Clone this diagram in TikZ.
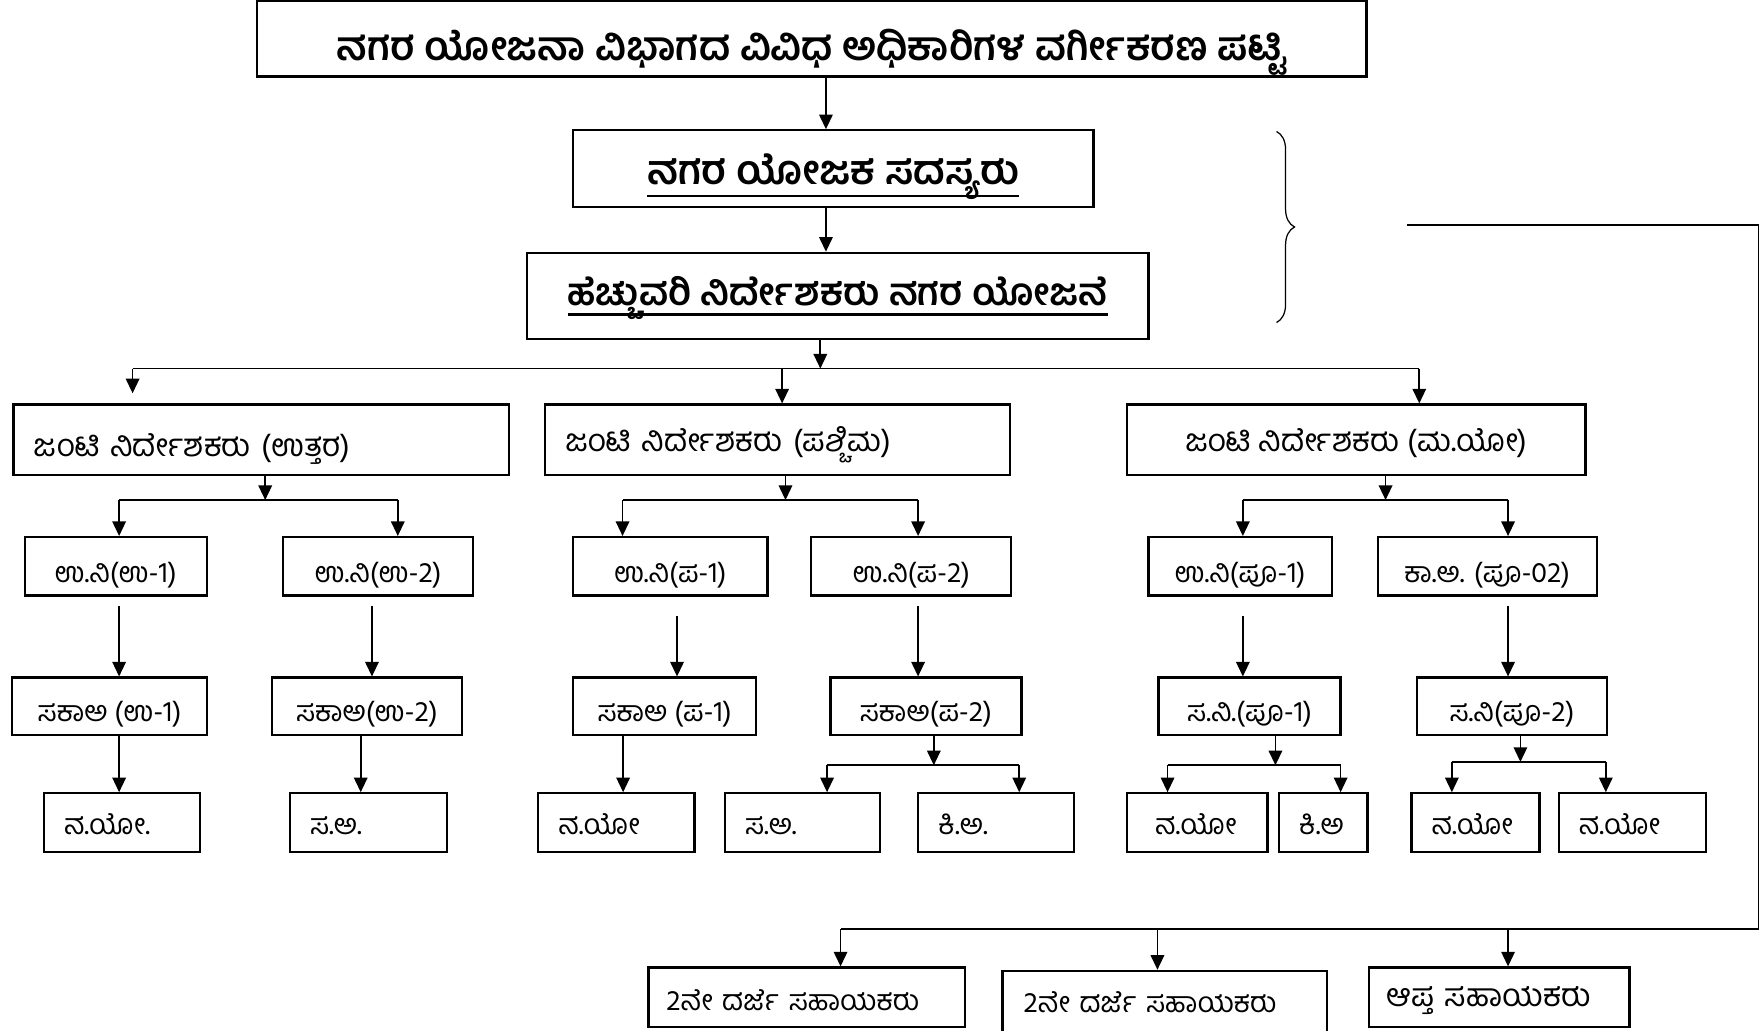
\documentclass[tikz,border=0pt]{standalone}
\usepackage{fontspec}
\newfontfamily\kn[Script=Kannada]{Hind Mysuru}
\usetikzlibrary{arrows.meta,decorations.pathreplacing}
\newcommand\ulk[2]{\setbox0\hbox{#2}\makebox[0pt][l]{\rule[-#1]{\wd0}{2.4pt}}\box0}
\begin{document}
\begin{tikzpicture}[x=1pt,y=1pt,
  bx/.style={draw, line width=2pt, inner sep=0pt, text depth=0pt},
  lbx/.style={bx, align=left},
  f0/.style={font=\kn\bfseries\fontsize{#1}{#1}\selectfont},
  f1/.style={font=\kn\fontsize{28}{32}\selectfont},
  f2/.style={font=\kn\fontsize{25.5}{29}\selectfont},
  f3/.style={font=\kn\fontsize{#1}{#1}\selectfont},
  ln/.style={line width=1.5pt},
  arr/.style={ln, -{Triangle[length=13pt,width=12pt]}},
  brc/.style={line width=1.1pt, decorate, decoration={brace, amplitude=16pt}}
]
\useasboundingbox (0,0) rectangle (1568,-917);
\clip (0,0) rectangle (1568,-917);
% top
\node[bx,f0=35.5,minimum width=987pt,minimum height=67pt,text height=38pt] (T) at (722.5,-34.5) {ನಗರ ಯೋಜನಾ ವಿಭಾಗದ ವಿವಿಧ ಅಧಿಕಾರಿಗಳ ವರ್ಗೀಕರಣ ಪಟ್ಟಿ};
\node[bx,f0=36,minimum width=463pt,minimum height=68pt,text height=29pt] (B2) at (741.5,-150) {\ulk{11.1pt}{ನಗರ ಯೋಜಕ ಸದಸ್ಯರು}};
\node[bx,f0=33.5,minimum width=553pt,minimum height=77pt,text height=16pt] (B3) at (745.5,-263.5) {\ulk{9.7pt}{ಹೆಚ್ಚುವರಿ ನಿರ್ದೇಶಕರು ನಗರ ಯೋಜನೆ}};
% row 1
\node[lbx,f1,inner xsep=18pt,text width=405pt,minimum height=63pt,text height=30pt] (JN) at (232.5,-391.5) {ಜಂಟಿ ನಿರ್ದೇಶಕರು (ಉತ್ತರ)};
\node[lbx,f1,inner xsep=18pt,text width=378pt,minimum height=63pt,text height=21pt] (JW) at (692,-391.5) {ಜಂಟಿ ನಿರ್ದೇಶಕರು (ಪಶ್ಚಿಮ)};
\node[bx,f1,minimum width=408pt,minimum height=63pt,text height=21pt] (JM) at (1207,-391.5) {ಜಂಟಿ ನಿರ್ದೇಶಕರು (ಮ.ಯೋ)};
% row 2
\begin{scope}[every node/.append style={bx,f2,minimum height=52pt,text height=29pt}]
\node[minimum width=162pt] (U1) at (103,-504) {ಉ.ನಿ(ಉ-1)};
\node[minimum width=169pt] (U2) at (336.5,-504) {ಉ.ನಿ(ಉ-2)};
\node[minimum width=173pt] (P1) at (596.5,-504) {ಉ.ನಿ(ಪ-1)};
\node[minimum width=178pt] (P2) at (811,-504) {ಉ.ನಿ(ಪ-2)};
\node[minimum width=163pt] (M1) at (1103.5,-504) {ಉ.ನಿ(ಪೂ-1)};
\node[minimum width=195pt] (M2) at (1323.5,-504) {ಕಾ.ಅ. (ಪೂ-02)};
\end{scope}
% row 3
\begin{scope}[every node/.append style={bx,f2,minimum height=51pt,text height=27pt}]
\node[minimum width=173pt] (S1) at (97.5,-628.5) {ಸಕಾಅ (ಉ-1)};
\node[minimum width=169pt] (S2) at (326.5,-628.5) {ಸಕಾಅ(ಉ-2)};
\node[minimum width=163pt] (S3) at (591.5,-628.5) {ಸಕಾಅ (ಪ-1)};
\node[minimum width=170pt] (S4) at (824,-628.5) {ಸಕಾಅ(ಪ-2)};
\node[minimum width=162pt] (S5) at (1112,-628.5) {ಸ.ನಿ.(ಪೂ-1)};
\node[minimum width=169pt] (S6) at (1345.5,-628.5) {ಸ.ನಿ(ಪೂ-2)};
\end{scope}
% row 4
\begin{scope}[every node/.append style={lbx,f2,minimum height=52pt,text height=22pt,inner xsep=18pt}]
\node[text width=103pt] (N1) at (108.5,-732) {ನ.ಯೋ.};
\node[text width=104pt] (N2) at (328,-732) {ಸ.ಅ.};
\node[text width=103pt] (N3) at (548.5,-732) {ನ.ಯೋ};
\node[text width=102pt] (N4) at (714,-732) {ಸ.ಅ.};
\node[text width=103pt] (N5) at (886.5,-732) {ಕಿ.ಅ.};
\node[text width=75pt,inner xsep=25pt] (N6) at (1065.5,-732) {ನ.ಯೋ};
\node[text width=43pt] (N7) at (1177.5,-732) {ಕಿ.ಅ};
\node[text width=78pt] (N8) at (1313,-732) {ನ.ಯೋ};
\node[text width=95pt] (N9) at (1452.5,-732) {ನ.ಯೋ};
\end{scope}
% bottom
\node[lbx,f3=25.5,inner xsep=16pt,text width=250pt,minimum height=53pt,text height=24pt] (A) at (718,-887.5) {2ನೇ ದರ್ಜೆ ಸಹಾಯಕರು};
\node[lbx,f3=25.5,inner xsep=19pt,text width=251pt,minimum height=56pt,text height=18pt] (B) at (1036.5,-892) {2ನೇ ದರ್ಜೆ ಸಹಾಯಕರು};
\node[lbx,f3=28.5,inner xsep=16pt,text width=200pt,minimum height=53pt,text height=17pt] (C) at (1334,-887.5) {ಆಪ್ತ ಸಹಾಯಕರು};
% x positions
\coordinate (c735) at (735,0);
% top connectors
\draw[arr] (T.south -| c735) -- (B2.north -| c735);
\draw[arr] (B2.south -| c735) -- (B3.north -| c735);
\coordinate (h0) at (730,-328);
\coordinate (hL) at (118,-328);
\coordinate (hW) at (696,-328);
\coordinate (hR) at (1263,-328);
\coordinate (eN) at (118,-350);
\draw[arr] (B3.south -| h0) -- (h0);
\draw[ln] (hL) -- (hR);
\draw[arr] (hL) -- (eN);
\draw[arr] (hW) -- (JW.north -| hW);
\draw[arr] (hR) -- (JM.north -| hR);
% row1 -> row2
\coordinate (nN) at (236,-445); \coordinate (nNl) at (106,-445); \coordinate (nNr) at (354,-445);
\coordinate (nW) at (699,-445); \coordinate (nWl) at (554,-445); \coordinate (nWr) at (817,-445);
\coordinate (nM) at (1233,-445); \coordinate (nMl) at (1106,-445); \coordinate (nMr) at (1342,-445);
\draw[arr] (JN.south -| nN) -- (nN);
\draw[arr] (JW.south -| nW) -- (nW);
\draw[arr] (JM.south -| nM) -- (nM);
\draw[ln] (nNl) -- (nNr);
\draw[ln] (nWl) -- (nWr);
\draw[ln] (nMl) -- (nMr);
\draw[arr] (nNl) -- (U1.north -| nNl);
\draw[arr] (nNr) -- (U2.north -| nNr);
\draw[arr] (nWl) -- (P1.north -| nWl);
\draw[arr] (nWr) -- (P2.north -| nWr);
\draw[arr] (nMl) -- (M1.north -| nMl);
\draw[arr] (nMr) -- (M2.north -| nMr);
% row2 -> row3
\coordinate (x106) at (106,0); \coordinate (x331) at (331,0); \coordinate (x602) at (602.5,0);
\coordinate (x817) at (817,0); \coordinate (x1106) at (1106,0); \coordinate (x1342) at (1342,0);
\draw[arr] ([yshift=-8pt]U1.south -| x106) -- (S1.north -| x106);
\draw[arr] ([yshift=-8pt]U2.south -| x331) -- (S2.north -| x331);
\draw[arr] ([yshift=-17pt]P1.south -| x602) -- (S3.north -| x602);
\draw[arr] ([yshift=-8pt]P2.south -| x817) -- (S4.north -| x817);
\draw[arr] ([yshift=-17pt]M1.south -| x1106) -- (S5.north -| x1106);
\draw[arr] ([yshift=-8pt]M2.south -| x1342) -- (S6.north -| x1342);
% row3 -> row4
\coordinate (x321) at (321,0); \coordinate (x554) at (554.5,0);
\draw[arr] (S1.south -| x106) -- (N1.north -| x106);
\draw[arr] (S2.south -| x321) -- (N2.north -| x321);
\draw[arr] (S3.south -| x554) -- (N3.north -| x554);
\coordinate (sW) at (831,-681); \coordinate (sWl) at (736,-681); \coordinate (sWr) at (907,-681);
\coordinate (sM) at (1135,-681); \coordinate (sMl) at (1039,-681); \coordinate (sMr) at (1193,-681);
\coordinate (sP) at (1353,-678); \coordinate (sPl) at (1292,-678); \coordinate (sPr) at (1429,-678);
\draw[arr] (S4.south -| sW) -- (sW);
\draw[arr] (S5.south -| sM) -- (sM);
\draw[arr] (S6.south -| sP) -- (sP);
\draw[ln] (sWl) -- (sWr);
\draw[ln] (sMl) -- (sMr);
\draw[ln] (sPl) -- (sPr);
\draw[arr] (sWl) -- (N4.north -| sWl);
\draw[arr] (sWr) -- (N5.north -| sWr);
\draw[arr] (sMl) -- (N6.north -| sMl);
\draw[arr] (sMr) -- (N7.north -| sMr);
\draw[arr] (sPl) -- (N8.north -| sPl);
\draw[arr] (sPr) -- (N9.north -| sPr);
% brace and right-hand connector
\draw[brc] (1136,-117) -- (1136,-287);
\coordinate (r0) at (1252,-200); \coordinate (r1) at (1565,-200);
\coordinate (r2) at (1565,-827); \coordinate (r3) at (748,-827);
\coordinate (r4) at (1030,-827); \coordinate (r5) at (1342,-827);
\draw[ln] (r0) -- (r1) -- (r2) -- (r3);
\draw[arr] (r3) -- (A.north -| r3);
\draw[arr] (r4) -- (B.north -| r4);
\draw[arr] (r5) -- (C.north -| r5);
\end{tikzpicture}
\end{document}
